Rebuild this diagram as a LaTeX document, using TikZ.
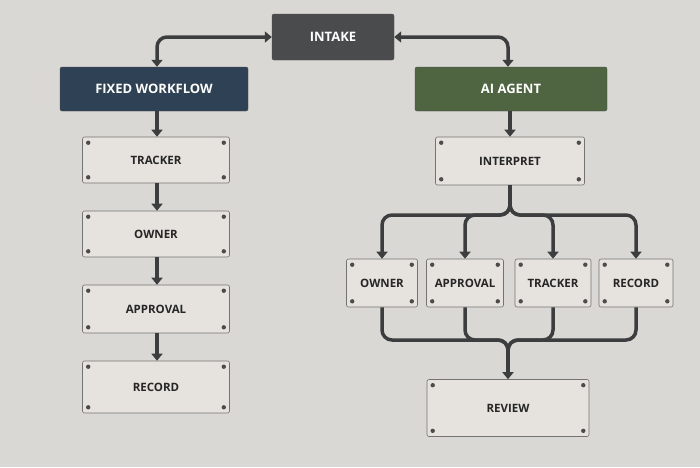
\documentclass[tikz,border=0pt]{standalone}
\usepackage{fontspec}
\setmainfont{Open Sans}
\usetikzlibrary{arrows.meta,calc}
\definecolor{bg}{HTML}{DAD8D4}
\definecolor{card}{HTML}{E6E3DE}
\definecolor{line}{HTML}{3C3D3E}
\definecolor{navy}{HTML}{2F4155}
\definecolor{olive}{HTML}{4F6441}
\definecolor{slate}{HTML}{4A4B4C}
\begin{document}
\begin{tikzpicture}[x=1pt,y=-1pt,
  card/.style={draw=black!55,fill=card,rounded corners=2pt,line width=0.6pt,font=\fontsize{11.5}{13}\selectfont\bfseries,text=black!85},
  head/.style={rounded corners=2pt,font=\fontsize{13}{15}\selectfont\bfseries,text=white,draw=black!70},
  conn/.style={draw=line,line width=3.5pt,rounded corners=10pt},
  tip/.style={-{Triangle[length=7pt,width=11pt]}}]
\fill[bg] (0,0) rectangle (700,467);
\useasboundingbox (0,0) rectangle (700,467);
% headers
\node[head,fill=slate,minimum width=122pt,minimum height=46pt] (intake) at (333,37) {INTAKE};
\node[head,fill=navy,minimum width=188pt,minimum height=44pt] (fixed) at (154,89) {FIXED WORKFLOW};
\node[head,fill=olive,minimum width=192pt,minimum height=44pt] (ai) at (511,89) {AI AGENT};
% left column
\node[card,minimum width=147pt,minimum height=46pt] (t1) at (156,160) {TRACKER};
\node[card,minimum width=147pt,minimum height=46pt] (o1) at (156,234) {OWNER};
\node[card,minimum width=147pt,minimum height=48pt] (a1) at (156,309) {APPROVAL};
\node[card,minimum width=147pt,minimum height=52pt] (r1) at (156,387) {RECORD};
% right
\node[card,minimum width=149pt,minimum height=48pt] (int) at (510,161) {INTERPRET};
\node[card,minimum width=71pt,minimum height=48pt] (o2) at (382,283) {OWNER};
\node[card,minimum width=77pt,minimum height=48pt] (a2) at (465,283) {APPROVAL};
\node[card,minimum width=76pt,minimum height=48pt] (t2) at (553,283) {TRACKER};
\node[card,minimum width=74pt,minimum height=48pt] (r2) at (636,283) {RECORD};
\node[card,minimum width=162pt,minimum height=57pt] (rev) at (508,408) {REVIEW};
\foreach \n in {t1,o1,a1,r1,int,o2,a2,t2,r2,rev}{
  \fill[black!70] ($(\n.north west)+(6,6)$) circle (2.2pt);
  \fill[black!70] ($(\n.north east)+(-6,6)$) circle (2.2pt);
  \fill[black!70] ($(\n.south west)+(6,-6)$) circle (2.2pt);
  \fill[black!70] ($(\n.south east)+(-6,-6)$) circle (2.2pt);}
% connectors top
\draw[conn,{Triangle[length=7pt,width=11pt]}-{Triangle[length=7pt,width=11pt]}] (intake.west) -- (157,37) -- (fixed.north -| 157,0);
\draw[conn,{Triangle[length=7pt,width=11pt]}-{Triangle[length=7pt,width=11pt]}] (intake.east) -- (508,37) -- (ai.north -| 508,0);
% left chain
\draw[conn,tip] (fixed.south -| 157,0) -- (t1.north -| 157,0);
\draw[conn,tip] (t1.south -| 157,0) -- (o1.north -| 157,0);
\draw[conn,tip] (o1.south -| 157,0) -- (a1.north -| 157,0);
\draw[conn,tip] (a1.south -| 157,0) -- (r1.north -| 157,0);
% right chain
\draw[conn,tip] (ai.south -| 510,0) -- (int.north -| 510,0);
\coordinate (split) at (510,215);
\draw[conn] (int.south -| 510,0) -- ($(split)+(0,-12)$);
\foreach \b in {o2,a2,t2,r2}{\draw[conn,tip] ($(split)+(0,-12)$) -- (split) -- (split -| \b.north) -- (\b.north);}
\coordinate (merge) at (508,340);
\foreach \b in {o2,a2,t2,r2}{\draw[conn] (\b.south) -- (\b.south |- merge) -- (merge) -- ($(merge)+(0,12)$);}
\draw[conn,tip] ($(merge)+(0,10)$) -- (rev.north -| merge);
\end{tikzpicture}
\end{document}
